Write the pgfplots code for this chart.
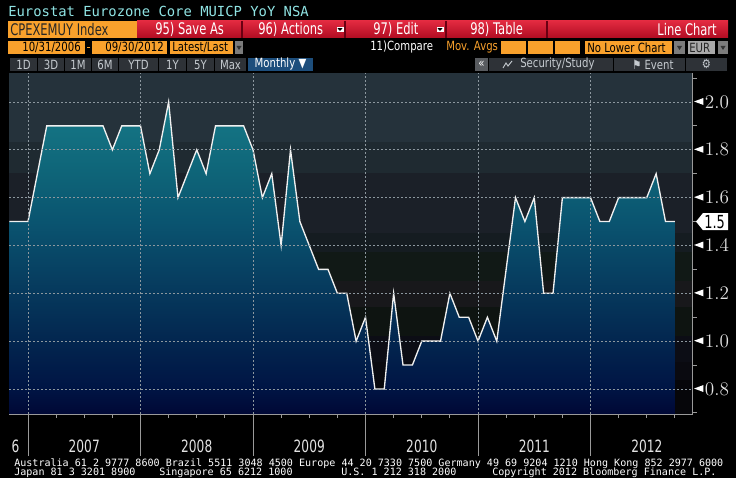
\documentclass[border=0pt]{standalone}
\usepackage{fontspec}
\usepackage{pgfplots}
\usepackage{pgfplotstable}
\pgfplotsset{compat=1.18}
\setmainfont{DejaVu Sans}
\newfontfamily\nar{DejaVu Sans}[FakeStretch=0.8]
\newfontfamily\narr{DejaVu Sans}[FakeStretch=0.72]
\newfontfamily\mono{DejaVu Sans Mono}

\definecolor{titlecyan}{HTML}{8FE3E3}
\definecolor{bbor}{HTML}{F9A12C}
\definecolor{redtop}{HTML}{E22A40}
\definecolor{redbot}{HTML}{B00C22}
\definecolor{redsep}{HTML}{6A0012}
\definecolor{btngrey}{HTML}{2E3237}
\definecolor{btntext}{HTML}{C5CACF}
\definecolor{ddgrey}{HTML}{7C7C7C}
\definecolor{eurgrey}{HTML}{A9A9A9}
\definecolor{monthblue}{HTML}{1D4E7C}
\definecolor{axisgrey}{HTML}{9A9A9A}
\definecolor{gridgrey}{HTML}{8C979E}
\definecolor{labgrey}{HTML}{E2E2E2}
% plot background bands
\definecolor{bga}{HTML}{25323B}
\definecolor{bgb}{HTML}{1F2A31}
\definecolor{bgc}{HTML}{1B2028}
\definecolor{bgd}{HTML}{151C21}
\definecolor{bge}{HTML}{111916}
\definecolor{bgf}{HTML}{18181B}
\definecolor{bgg}{HTML}{0E1411}
\definecolor{bgh}{HTML}{0C0D15}
\definecolor{bgi}{HTML}{0A0A10}
\definecolor{bgj}{HTML}{06060A}
% area fill
\definecolor{fa}{HTML}{000835}
\definecolor{fb}{HTML}{001444}
\definecolor{fc}{HTML}{03264F}
\definecolor{fd}{HTML}{06385C}
\definecolor{fe}{HTML}{0A5470}
\definecolor{ff}{HTML}{0E6478}
\definecolor{fg}{HTML}{177A88}
\pgfdeclareverticalshading{bbfill}{100bp}{color(0bp)=(fa); color(25bp)=(fa);
  color(29bp)=(fb); color(36.7bp)=(fc); color(44.3bp)=(fd); color(55.8bp)=(fe);
  color(63.5bp)=(ff); color(75bp)=(fg); color(100bp)=(fg)}

% month index: 0 = Dec 2006 (year boundary 2007)
\pgfplotstableread{
m v
-2 1.5
-1 1.5
0 1.5
1 1.7
2 1.9
3 1.9
4 1.9
5 1.9
6 1.9
7 1.9
8 1.9
9 1.8
10 1.9
11 1.9
12 1.9
13 1.7
14 1.8
15 2.0
16 1.6
17 1.7
18 1.8
19 1.7
20 1.9
21 1.9
22 1.9
23 1.9
24 1.8
25 1.6
26 1.7
27 1.4
28 1.8
29 1.5
30 1.4
31 1.3
32 1.3
33 1.2
34 1.2
35 1.0
36 1.1
37 0.8
38 0.8
39 1.2
40 0.9
41 0.9
42 1.0
43 1.0
44 1.0
45 1.2
46 1.1
47 1.1
48 1.0
49 1.1
50 1.0
51 1.3
52 1.6
53 1.5
54 1.6
55 1.2
56 1.2
57 1.6
58 1.6
59 1.6
60 1.6
61 1.5
62 1.5
63 1.6
64 1.6
65 1.6
66 1.6
67 1.7
68 1.5
69 1.5
}\cpi

\newcommand\tri{\tikz[baseline=-0.37em]\fill[white] (0,0) -- (7pt,2.6pt) -- (7pt,-2.6pt) -- cycle;}
\newcommand\dd[2]{\fill[ddgrey] (#1,41) rectangle (#2,54);
  \fill[black!80] ({(#1+#2)/2-2.5},46) -- ({(#1+#2)/2+2.5},46) -- ({(#1+#2)/2},50) -- cycle;}

\begin{document}
\begin{tikzpicture}
\begin{scope}[x=0.75pt,y=-0.75pt]
\path[use as bounding box, fill=black] (0,0) rectangle (736,478);

% title
\node[anchor=west, inner sep=0, text=titlecyan, font=\mono\fontsize{10.4}{12}\selectfont] at (8,11) {Eurostat Eurozone Core MUICP YoY NSA};

% red toolbar
\shade[top color=redtop, bottom color=redbot] (137,21) rectangle (728,38);
\foreach \s in {242,345,446,547} \draw[redsep, line width=0.8pt] (\s,21) -- (\s,38);
\fill[bbor] (8,21) rectangle (137,38);
\begin{scope}[font=\narr\fontsize{12}{12}\selectfont]
\node[anchor=west, inner sep=0, text=black!85] at (10,29.5) {CPEXEMUY Index};
\node[anchor=west, inner sep=0, text=white] at (155,29.5) {95) Save As};
\node[anchor=west, inner sep=0, text=white] at (258,29.5) {96) Actions};
\node[anchor=west, inner sep=0, text=white] at (373,29.5) {97) Edit};
\node[anchor=west, inner sep=0, text=white] at (470,29.5) {98) Table};
\node[anchor=east, inner sep=0, text=white] at (717,29.5) {Line Chart};
\end{scope}
\foreach \c in {340,440} {\fill[white] (\c-3.5,27) rectangle (\c+3.5,32);
  \fill[black] (\c-2.5,28.2) -- (\c+2.5,28.2) -- (\c,31) -- cycle;}

% second row
\begin{scope}[font=\nar\fontsize{9.5}{10}\selectfont]
\fill[bbor] (8,41) rectangle (85,54);
\node[anchor=east, inner sep=0, text=black] at (81,47.5) {10/31/2006};
\fill[bbor] (86.5,47) rectangle (89.5,48.5);
\fill[bbor] (92,41) rectangle (167,54);
\node[anchor=east, inner sep=0, text=black] at (164,47.5) {09/30/2012};
\fill[bbor] (170,41) rectangle (233,54);
\node[anchor=west, inner sep=0, text=black] at (172,47.5) {Latest/Last};
\dd{235}{243}
\node[anchor=west, inner sep=0, text=white] at (370,47.5) {11)Compare};
\node[anchor=west, inner sep=0, text=bbor] at (446,47.5) {Mov. Avgs};
\fill[bbor] (501,41) rectangle (580,54);
\draw[black, line width=0.8pt] (527,41) -- (527,54) (554,41) -- (554,54);
\fill[bbor] (585,41) rectangle (672,54);
\node[anchor=west, inner sep=0, text=black] at (587,47.5) {No Lower Chart};
\dd{674}{685}
\fill[eurgrey] (688,41) rectangle (715,54);
\node[anchor=west, inner sep=0, text=black!85] at (689,47.5) {EUR};
\dd{718}{728}
\end{scope}

% third row
\begin{scope}[font=\nar\fontsize{9.5}{10}\selectfont]
\foreach \a/\b/\t in {10/37/1D, 38/64/3D, 65/91/1M, 92/118/6M, 119/158/YTD, 159/186/1Y, 187/214/5Y, 215/246/Max} {
  \fill[btngrey] (\a,58) rectangle (\b,71);
  \node[inner sep=0, text=btntext] at ({(\a+\b)/2},64.5) {\t};}
\fill[monthblue] (248,58) rectangle (313,71);
\node[inner sep=0, text=white] at (280.5,64.5) {Monthly ▼};
\fill[btngrey!80!white] (475,58) rectangle (488,71);
\node[inner sep=0, text=white] at (481.5,64.5) {«};
\fill[btngrey] (489,58) rectangle (613,71);
\draw[btntext, line width=0.7pt] (503,68) -- (506,63) -- (508,66) -- (512,61);
\node[anchor=west, inner sep=0, text=btntext] at (520,64.5) {Security/Study};
\fill[btngrey] (614,58) rectangle (685,71);
\node[anchor=west, inner sep=0, text=btntext] at (632,64.5) {⚑\ Event};
\fill[btngrey] (686,58) rectangle (727,71);
\node[inner sep=0, text=btntext] at (706.5,64.5) {⚙};
\end{scope}

% plot background bands
\foreach \ya/\yb/\c in {73/142/bga, 142/173/bgb, 173/233/bgc, 233/252/bgd, 252/281/bge,
  281/307/bgf, 307/336/bgg, 336/362/bgh, 362/380/bgi, 380/414/bgj}
  \fill[\c] (9.25,\ya) rectangle (693,\yb);

% year separators
\foreach \k in {0,...,5} \draw[axisgrey, line width=0.75pt] (28+112.5*\k,415) -- (28+112.5*\k,456);

% footer
\begin{scope}[font=\mono\fontsize{7.55}{8}\selectfont, text=white]
\node[anchor=base west, inner sep=0] at (14,466.5) {Australia 61 2 9777 8600 Brazil 5511 3048 4500 Europe 44 20 7330 7500 Germany 49 69 9204 1210 Hong Kong 852 2977 6000};
\node[anchor=base west, inner sep=0] at (14,475.3) {Japan 81 3 3201 8900};
\node[anchor=base west, inner sep=0] at (159,475.3) {Singapore 65 6212 1000};
\node[anchor=base west, inner sep=0] at (341,475.3) {U.S. 1 212 318 2000};
\node[anchor=base west, inner sep=0] at (492,475.3) {Copyright 2012 Bloomberg Finance L.P.};
\end{scope}

\coordinate (plotSW) at (9.25,414);
\end{scope}

\begin{axis}[
  at={(plotSW)}, anchor=south west,
  width=512.8pt, height=255.75pt, scale only axis,
  xmin=-2, xmax=70.93, ymin=0.6955, ymax=2.121,
  axis on top, clip mode=individual,
  axis x line*=bottom, axis y line*=right,
  axis line style={draw=axisgrey, line width=0.75pt},
  tick align=outside, major tick length=0pt, minor tick length=3pt,
  every tick/.style={draw=axisgrey, line width=0.75pt},
  xtick={-1.32,6,18,30,42,54,66},
  xticklabels={6,2007,2008,2009,2010,2011,2012},
  minor xtick={0,3,...,69},
  extra x ticks={0,12,24,36,48,60},
  extra x tick labels={},
  extra x tick style={grid=major},
  xticklabel style={anchor=center, yshift=-24.5pt, text=labgrey,
    font=\narr\fontsize{12.7}{13}\selectfont},
  ytick={0.8,1.0,1.2,1.4,1.6,1.8,2.0},
  minor ytick={0.7,0.9,1.1,1.3,1.5,1.7,1.9,2.1},
  ymajorgrids=true,
  grid style={draw=gridgrey, dash pattern=on 1.5pt off 1.5pt, line width=0.6pt},
  yticklabel={\tri\hspace{1.2pt}\pgfmathprintnumber[fixed,fixed zerofill,precision=1]{\tick}},
  yticklabel style={anchor=west, inner sep=0pt, xshift=0.6pt, text=labgrey,
    font=\narr\fontsize{13.5}{13}\selectfont},
]
\addplot[draw=none, shade, shading=bbfill] table[x=m,y=v]{\cpi}
  -- (axis cs:69,0.6955) -- (axis cs:-2,0.6955) -- cycle;
\addplot[draw=white!94!black, line width=1pt, line join=miter] table[x=m,y=v]{\cpi};
\end{axis}

% current value flag (last value 1.5)
\begin{scope}[x=0.75pt,y=-0.75pt]
\fill[white] (696,221.6) -- (703,213) -- (728,213) -- (728,230.2) -- (703,230.2) -- cycle;
\node[anchor=west, inner sep=0, text=black, font=\narr\fontsize{13.5}{13}\selectfont] at (704,221.8) {1.5};
\end{scope}
\end{tikzpicture}
\end{document}
